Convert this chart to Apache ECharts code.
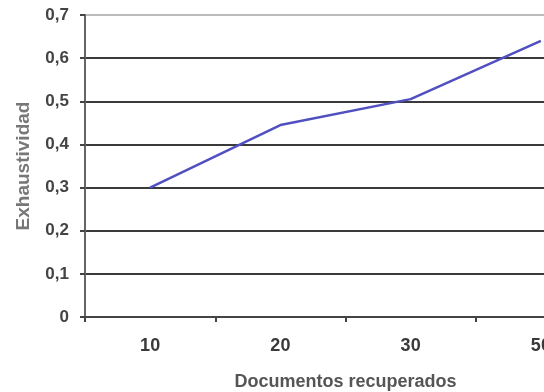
<!DOCTYPE html>
<html>
<head>
<meta charset="utf-8">
<script src="https://cdn.jsdelivr.net/npm/echarts@6/dist/echarts.min.js"></script>
<style>
  html, body { margin: 0; padding: 0; background: #fff; overflow: hidden; width: 544px; height: 392px; }
  #chart { width: 650px; height: 392px; }
</style>
</head>
<body>
<div id="chart"></div>
<script>
// Documentos recuperados vs. exhaustividad
const categories = ['10', '20', '30', '50'];
const exhaustividad = [0.30, 0.445, 0.505, 0.64];
const yMin = 0;
const yMax = 0.7;
const yStep = 0.1;

const chart = echarts.init(document.getElementById('chart'), null, { renderer: 'canvas' });

const font = 'Liberation Sans, Arial, sans-serif';

chart.setOption({
  animation: false,
  backgroundColor: '#ffffff',
  grid: { left: 85, right: 44, top: 15, bottom: 75, containLabel: false, outerBoundsMode: 'none' },
  xAxis: {
    type: 'category',
    data: categories,
    boundaryGap: true,
    name: 'Documentos recuperados',
    nameLocation: 'middle',
    nameGap: 56,
    nameTextStyle: { fontFamily: font, fontSize: 18, fontWeight: 'bold', color: '#555' },
    axisLine: { show: true, lineStyle: { color: '#444', width: 2 } },
    axisTick: { show: true, length: 5, lineStyle: { color: '#444', width: 2 } },
    axisLabel: { margin: 20, fontFamily: font, fontSize: 18, fontWeight: 'bold', color: '#3a3a3a' },
    splitLine: { show: false }
  },
  yAxis: {
    type: 'value',
    min: yMin,
    max: yMax,
    interval: yStep,
    name: 'Exhaustividad',
    nameLocation: 'middle',
    nameGap: 52,
    nameTextStyle: { fontFamily: font, fontSize: 19, fontWeight: 'bold', color: '#777' },
    axisLine: { show: true, lineStyle: { color: '#666', width: 2 } },
    axisTick: { show: true, length: 5, lineStyle: { color: '#444', width: 2 } },
    axisLabel: {
      margin: 16,
      fontFamily: font,
      fontSize: 17,
      fontWeight: 'bold',
      color: '#444',
      formatter: v => (Math.round(v * 10) / 10).toString().replace('.', ',')
    },
    splitLine: {
      show: true,
      lineStyle: {
        color: ['#3a3a3a', '#3a3a3a', '#3a3a3a', '#3a3a3a', '#3a3a3a', '#3a3a3a', '#3a3a3a', '#bbb'],
        width: 2
      }
    }
  },
  series: [{
    type: 'line',
    data: exhaustividad,
    symbol: 'none',
    lineStyle: { color: '#5050c0', width: 2.5 },
    itemStyle: { color: '#5050c0' }
  }]
});
</script>
</body>
</html>
